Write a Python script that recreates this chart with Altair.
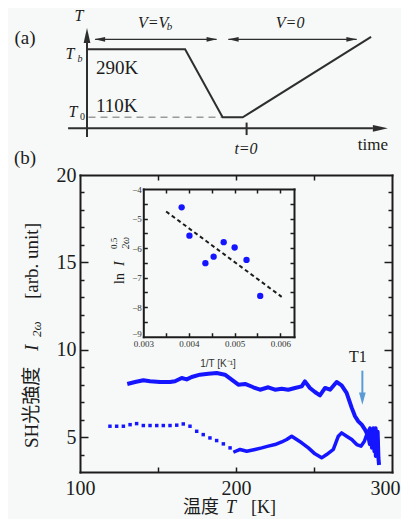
import altair as alt
import pandas as pd

# ---------------- data ----------------
# (a) temperature schedule (schematic, arbitrary time units / K)
sched_time = [0.1, 32.7, 45.2, 51.9, 94.7]
sched_temp = [290, 290, 110, 110, 323]
# schematic frame segments (time, T) -> (time2, T2)
frame_t1 = [0.0, -6.3, 53.2]
frame_T1 = [57.9, 80.9, 63.0]
frame_t2 = [0.0, 95.3, 53.2]
frame_T2 = [306.7, 80.9, 96.0]
# V arrows spans
varrow_t1 = [2.7, 47.1]
varrow_t2 = [43.2, 89.9]
varrow_T = 316.5

# (b) SH intensity vs temperature
upper_T = [130.3, 135.3, 140.6, 144.9, 151.3, 157.7, 160.9, 165.2, 168.4, 171.6,
           176.9, 182.3, 187.6, 192.9, 197.2, 201.5, 205.8, 211.1, 215.4, 220.7,
           225.0, 229.3, 233.5, 237.8, 242.1, 244.2, 247.4, 250.6, 253.8, 257.1,
           260.3, 264.5, 267.7, 270.9, 274.2, 276.3, 278.4, 280.6, 282.7, 284.8,
           285.8, 286.5, 287.3, 288.0, 288.7, 289.5, 290.2, 290.8, 291.3, 291.7]
upper_I = [8.04, 8.15, 8.25, 8.19, 8.15, 8.15, 8.19, 8.38, 8.30, 8.44,
           8.57, 8.63, 8.67, 8.57, 8.29, 8.00, 8.04, 7.85, 7.71, 7.85,
           7.71, 7.77, 7.71, 7.81, 7.90, 8.19, 7.81, 7.58, 7.39, 7.81,
           7.71, 8.15, 7.96, 7.53, 6.67, 6.19, 5.90, 5.71, 5.43, 5.05,
           4.60, 5.40, 4.50, 5.50, 4.20, 5.50, 4.00, 5.30, 3.80, 3.40]

lower_dot_T = [119.2, 123.5, 127.8, 132.1, 136.3, 140.6, 144.9, 149.2, 153.4, 157.7,
               162.0, 166.2, 170.5, 174.8, 179.0, 183.3, 187.6, 191.9, 196.2]
lower_dot_I = [5.62, 5.62, 5.62, 5.71, 5.77, 5.66, 5.66, 5.66, 5.66, 5.66,
               5.68, 5.75, 5.62, 5.33, 5.14, 4.95, 4.80, 4.61, 4.38]

lower_T = [198.3, 202.6, 206.9, 212.2, 216.5, 220.7, 225.0, 229.3, 232.5, 235.7,
           238.9, 242.1, 246.4, 250.6, 254.9, 258.1, 262.4, 265.6, 267.7, 270.9,
           274.2, 277.4, 280.1, 282.3, 283.8, 285.9, 287.0, 288.7, 289.5, 290.5, 291.2]
lower_I = [4.13, 4.29, 4.19, 4.29, 4.38, 4.48, 4.57, 4.72, 4.86, 5.05,
           4.86, 4.67, 4.38, 4.04, 3.81, 4.00, 4.29, 5.05, 5.24, 5.05,
           4.86, 4.57, 4.48, 4.76, 5.14, 5.52, 4.38, 5.33, 3.90, 5.00, 4.38]

# inset: ln I^0.5 vs 1/T
inv_T = [0.00384, 0.00401, 0.00436, 0.00454, 0.00476, 0.00500, 0.00526, 0.00556]
ln_I = [-4.62, -5.58, -6.51, -6.29, -5.80, -5.98, -6.40, -7.62]
fit_inv_T = [0.0035, 0.00603]
fit_ln_I = [-4.76, -7.65]

# ticks
main_x_labels = [100, 200, 300]
main_x_ticks = [150, 200, 250]
main_y_labels = [5, 10, 15, 20]
main_y_ticks = [4, 5, 6, 7, 8, 9, 10, 11, 12, 13, 14, 15, 16, 17, 18, 19]
inset_x_labels = [0.003, 0.004, 0.005, 0.006]
inset_x_ticks = [0.0035, 0.004, 0.0045, 0.005, 0.0055, 0.006]
inset_y_labels = [-9, -8, -7, -6, -5, -4]
inset_y_ticks = [-8.5, -8, -7.5, -7, -6.5, -6, -5.5, -5, -4.5]
T1_pos = 281

# ---------------- style ----------------
W, H = 393, 511
BG = "#f6f9f7"
INK = "#1c1c1c"
GREY = "#2e2e2e"
BLUE = "#1515ff"
ARROW_BLUE = "#5b9bd5"
SERIF = "Liberation Serif, Noto Sans CJK JP"
SANS = "Liberation Sans"


def S(domain, rng):
    return alt.Scale(domain=domain, range=rng, zero=False, nice=False)


sa_x = S([0, 100], [79, 379])
sa_y = S([110, 290], [109.3, 41.3])
mx = S([100, 300], [72, 384])
my = S([3, 20], [464, 167])
ix = S([0.003, 0.0063], [135.3, 286])
iy = S([-9, -4], [328.7, 181])

MAJ = {"condition": {"test": "datum.value % 5 === 0", "value": 8}, "value": 4}
LAST_X = {"condition": {"test": "datum.value === 300", "value": -7}, "value": 0}
FIRST_Y = {"condition": {"test": "datum.value === -9", "value": -3}, "value": 0}


def ax(orient, offset, values, domain=False, tick=None, labels=False, fmt=None,
       size=20, pad=4, color=INK, font=SERIF, loff=None):
    kw = dict(orient=orient, offset=offset, values=values, grid=False, title=None,
              domain=domain, labels=labels)
    if domain:
        kw.update(domainColor=INK, domainWidth=2, domainCap="square")
    if tick is not None:
        kw.update(ticks=True, tickSize=tick, tickColor=INK, tickWidth=1.5)
    else:
        kw.update(ticks=False, tickSize=0)
    if labels:
        kw.update(labelFont=font, labelFontSize=size, labelColor=color,
                  labelPadding=pad, labelOverlap=False, labelFlush=False)
        if fmt:
            kw["format"] = fmt
        if loff is not None:
            kw["labelOffset"] = loff
    return alt.Axis(**kw)


def one(s):
    return pd.DataFrame({"s": [s]})


def dtext(s, x, y, xs, ys, **mk):
    base = dict(font=SERIF, fontSize=16, color=INK, baseline="middle", align="center")
    base.update(mk)
    return alt.Chart(one(s)).mark_text(**base).encode(
        x=alt.XDatum(x, scale=xs, axis=None), y=alt.YDatum(y, scale=ys, axis=None),
        text="s:N")


def ptext(s, x, y, **mk):
    base = dict(font=SERIF, fontSize=19, color=INK, baseline="middle", align="left")
    base.update(mk)
    return alt.Chart(one(s)).mark_text(**base).encode(
        x=alt.value(x), y=alt.value(y), text="s:N")


UP = "M0,-1L0.45,1L-0.45,1Z"
RIGHT = "M1,0L-1,0.45L-1,-0.45Z"
LEFT = "M-1,0L1,0.45L1,-0.45Z"
DOWN = "M0,1L0.55,-1L-0.55,-1Z"


def head(path, x, y, size, xs, ys, color=GREY):
    return alt.Chart(one("h")).mark_point(shape=path, size=size, filled=True,
                                           color=color, opacity=1, strokeWidth=0).encode(
        x=alt.XDatum(x, scale=xs, axis=None), y=alt.YDatum(y, scale=ys, axis=None))


def at(s, x, y, **mk):
    return dtext(s, x, y, sa_x, sa_y, **mk)


# ---------------- panel (a) ----------------
a_line = alt.Chart(pd.DataFrame({"t": sched_time, "T": sched_temp})).mark_line(
    color=GREY, strokeWidth=2).encode(
    x=alt.X("t:Q", scale=sa_x, axis=None), y=alt.Y("T:Q", scale=sa_y, axis=None))
a_frame = alt.Chart(pd.DataFrame({"t": frame_t1, "T": frame_T1, "t2": frame_t2, "T2": frame_T2})
                    ).mark_rule(color=GREY, strokeWidth=2).encode(
    x=alt.X("t:Q", scale=sa_x, axis=None), y=alt.Y("T:Q", scale=sa_y, axis=None),
    x2="t2:Q", y2="T2:Q")
a_varrows = alt.Chart(pd.DataFrame({"t": varrow_t1, "t2": varrow_t2})).mark_rule(
    color=GREY, strokeWidth=1.3).encode(
    x=alt.X("t:Q", scale=sa_x, axis=None), x2="t2:Q",
    y=alt.YDatum(varrow_T, scale=sa_y, axis=None))
a_dash = alt.Chart(one("d")).mark_rule(color="#9a9a9a", strokeWidth=1.5,
                                       strokeDash=[7, 5]).encode(
    x=alt.XDatum(0.5, scale=sa_x, axis=None), x2=alt.X2Datum(45.2),
    y=alt.YDatum(110, scale=sa_y, axis=None))

panel_a = alt.layer(
    a_dash, a_frame, a_varrows, a_line,
    head(UP, 0, 326.5, 225, sa_x, sa_y), head(RIGHT, 97.8, 80.9, 225, sa_x, sa_y),
    head(LEFT, 4.3, varrow_T, 110, sa_x, sa_y), head(RIGHT, 41.6, varrow_T, 110, sa_x, sa_y),
    head(LEFT, 48.8, varrow_T, 110, sa_x, sa_y), head(RIGHT, 88.2, varrow_T, 110, sa_x, sa_y),
    at("T", -2.7, 377, fontStyle="italic", fontSize=16),
    at("V=V", 17, 359.6, fontStyle="italic", align="left"),
    at("b", 26.6, 359.6, fontStyle="italic", align="left", fontSize=11, dy=4),
    at("V=0", 67.7, 359.6, fontStyle="italic"),
    at("T", -5.7, 277, fontStyle="italic"),
    at("b", -3.2, 277, fontStyle="italic", fontSize=10, dy=5, align="left"),
    at("T", -4.7, 124, fontStyle="italic"),
    at("0", -2.3, 124, fontSize=10, dy=5, align="left"),
    at("290K", 3, 240.5, fontSize=19, align="left"),
    at("110K", 3, 140, fontSize=19, align="left"),
    at("time", 95.3, 36.7, fontSize=17),
    at("t=0", 53, 27.4, fontSize=16, fontStyle="italic"),
)

# ---------------- panel (b) main ----------------
up = alt.Chart(pd.DataFrame({"T": upper_T, "I": upper_I})).mark_line(
    color=BLUE, strokeWidth=4, strokeJoin="round").encode(
    x=alt.X("T:Q", scale=mx, axis=ax("bottom", 464 - H, main_x_labels, domain=True,
                                     labels=True, fmt="d", pad=6, loff=LAST_X)),
    y=alt.Y("I:Q", scale=my, axis=ax("left", -72, main_y_labels, domain=True,
                                     labels=True, fmt="d", pad=4)))
low_dots = alt.Chart(pd.DataFrame({"T": lower_dot_T, "I": lower_dot_I})).mark_square(
    color=BLUE, size=12, opacity=1).encode(
    x=alt.X("T:Q", scale=mx, axis=ax("top", -464, main_x_ticks, tick=5)),
    y=alt.Y("I:Q", scale=my, axis=ax("right", 72 - W, main_y_ticks, tick=MAJ)))
low = alt.Chart(pd.DataFrame({"T": lower_T, "I": lower_I})).mark_line(
    color=BLUE, strokeWidth=3.5, strokeJoin="round").encode(
    x=alt.X("T:Q", scale=mx, axis=ax("bottom", 167 - H, main_x_ticks, domain=True, tick=5)),
    y=alt.Y("I:Q", scale=my, axis=ax("left", -384, main_y_ticks, domain=True, tick=MAJ)))
t1_rule = alt.Chart(one("r")).mark_rule(color=ARROW_BLUE, strokeWidth=2).encode(
    x=alt.XDatum(T1_pos, scale=mx, axis=None), y=alt.YDatum(8.8, scale=my, axis=None),
    y2=alt.Y2Datum(7.5))
t1_head = head(DOWN, T1_pos, 7.2, 150, mx, my, color=ARROW_BLUE)
t1_text = dtext("T1", 278.2, 9.6, mx, my, fontSize=16)

panel_b = alt.layer(up, low_dots, low, t1_rule, t1_head, t1_text).resolve_axis(
    x="independent", y="independent")

# ---------------- inset ----------------
pts = alt.Chart(pd.DataFrame({"x": inv_T, "y": ln_I})).mark_circle(
    color=BLUE, size=40, opacity=1).encode(
    x=alt.X("x:Q", scale=ix, axis=ax("bottom", 328.7 - H, inset_x_labels, domain=True,
                                     labels=True, fmt=".3f", size=9, pad=3, color="#333")),
    y=alt.Y("y:Q", scale=iy, axis=ax("left", -135.3, inset_y_labels, domain=True,
                                     labels=True, fmt="d", size=9, pad=2, color="#333",
                                     loff=FIRST_Y)))
fit = alt.Chart(pd.DataFrame({"x": fit_inv_T, "y": fit_ln_I})).mark_line(
    color=INK, strokeWidth=2, strokeDash=[4, 3]).encode(
    x=alt.X("x:Q", scale=ix, axis=ax("top", -328.7, inset_x_ticks, tick=4)),
    y=alt.Y("y:Q", scale=iy, axis=ax("right", 135.3 - W, inset_y_ticks, tick=4)))
frame_i = alt.Chart(pd.DataFrame({"x": fit_inv_T, "y": fit_ln_I})).mark_point(
    opacity=0).encode(
    x=alt.X("x:Q", scale=ix, axis=ax("bottom", 181 - H, inset_x_ticks, domain=True, tick=4)),
    y=alt.Y("y:Q", scale=iy, axis=ax("left", -286, inset_y_ticks, domain=True, tick=4)))

inset = alt.layer(fit, pts, frame_i).resolve_axis(x="independent", y="independent")

# ---------------- free labels ----------------
labels = alt.layer(
    ptext("(a)", 17, 30, align="center"),
    ptext("(b)", 17, 150, align="center"),
    # x title
    ptext("温度", 175, 500, fontSize=18),
    ptext("T", 218, 500, fontStyle="italic", fontSize=18),
    ptext("[K]", 243, 500, fontSize=18),
    # y title (rotated)
    ptext("SH光強度", 24, 440, angle=270),
    ptext("I", 24, 343, angle=270, fontStyle="italic"),
    ptext("2ω", 29, 329, angle=270, fontStyle="italic", fontSize=13),
    ptext("[arb. unit]", 24, 291, angle=270),
    # inset titles
    ptext("ln", 112, 276, angle=270, fontSize=14),
    ptext("I", 112, 258, angle=270, fontSize=14, fontStyle="italic"),
    ptext("0.5", 106, 241, angle=270, fontSize=9),
    ptext("2ω", 118, 241, angle=270, fontSize=10, fontStyle="italic"),
    ptext("1/T [K⁻¹]", 210, 356, align="center", font=SANS, fontSize=10, color="#333"),
)

chart = alt.layer(panel_a, panel_b, inset, labels).resolve_scale(
    x="independent", y="independent").properties(
    width=W, height=H, autosize=alt.AutoSizeParams(type="none"), padding=0,
    background=BG).configure_view(stroke=None)

chart.save("out.html", embed_options={"renderer": "svg", "actions": False})
